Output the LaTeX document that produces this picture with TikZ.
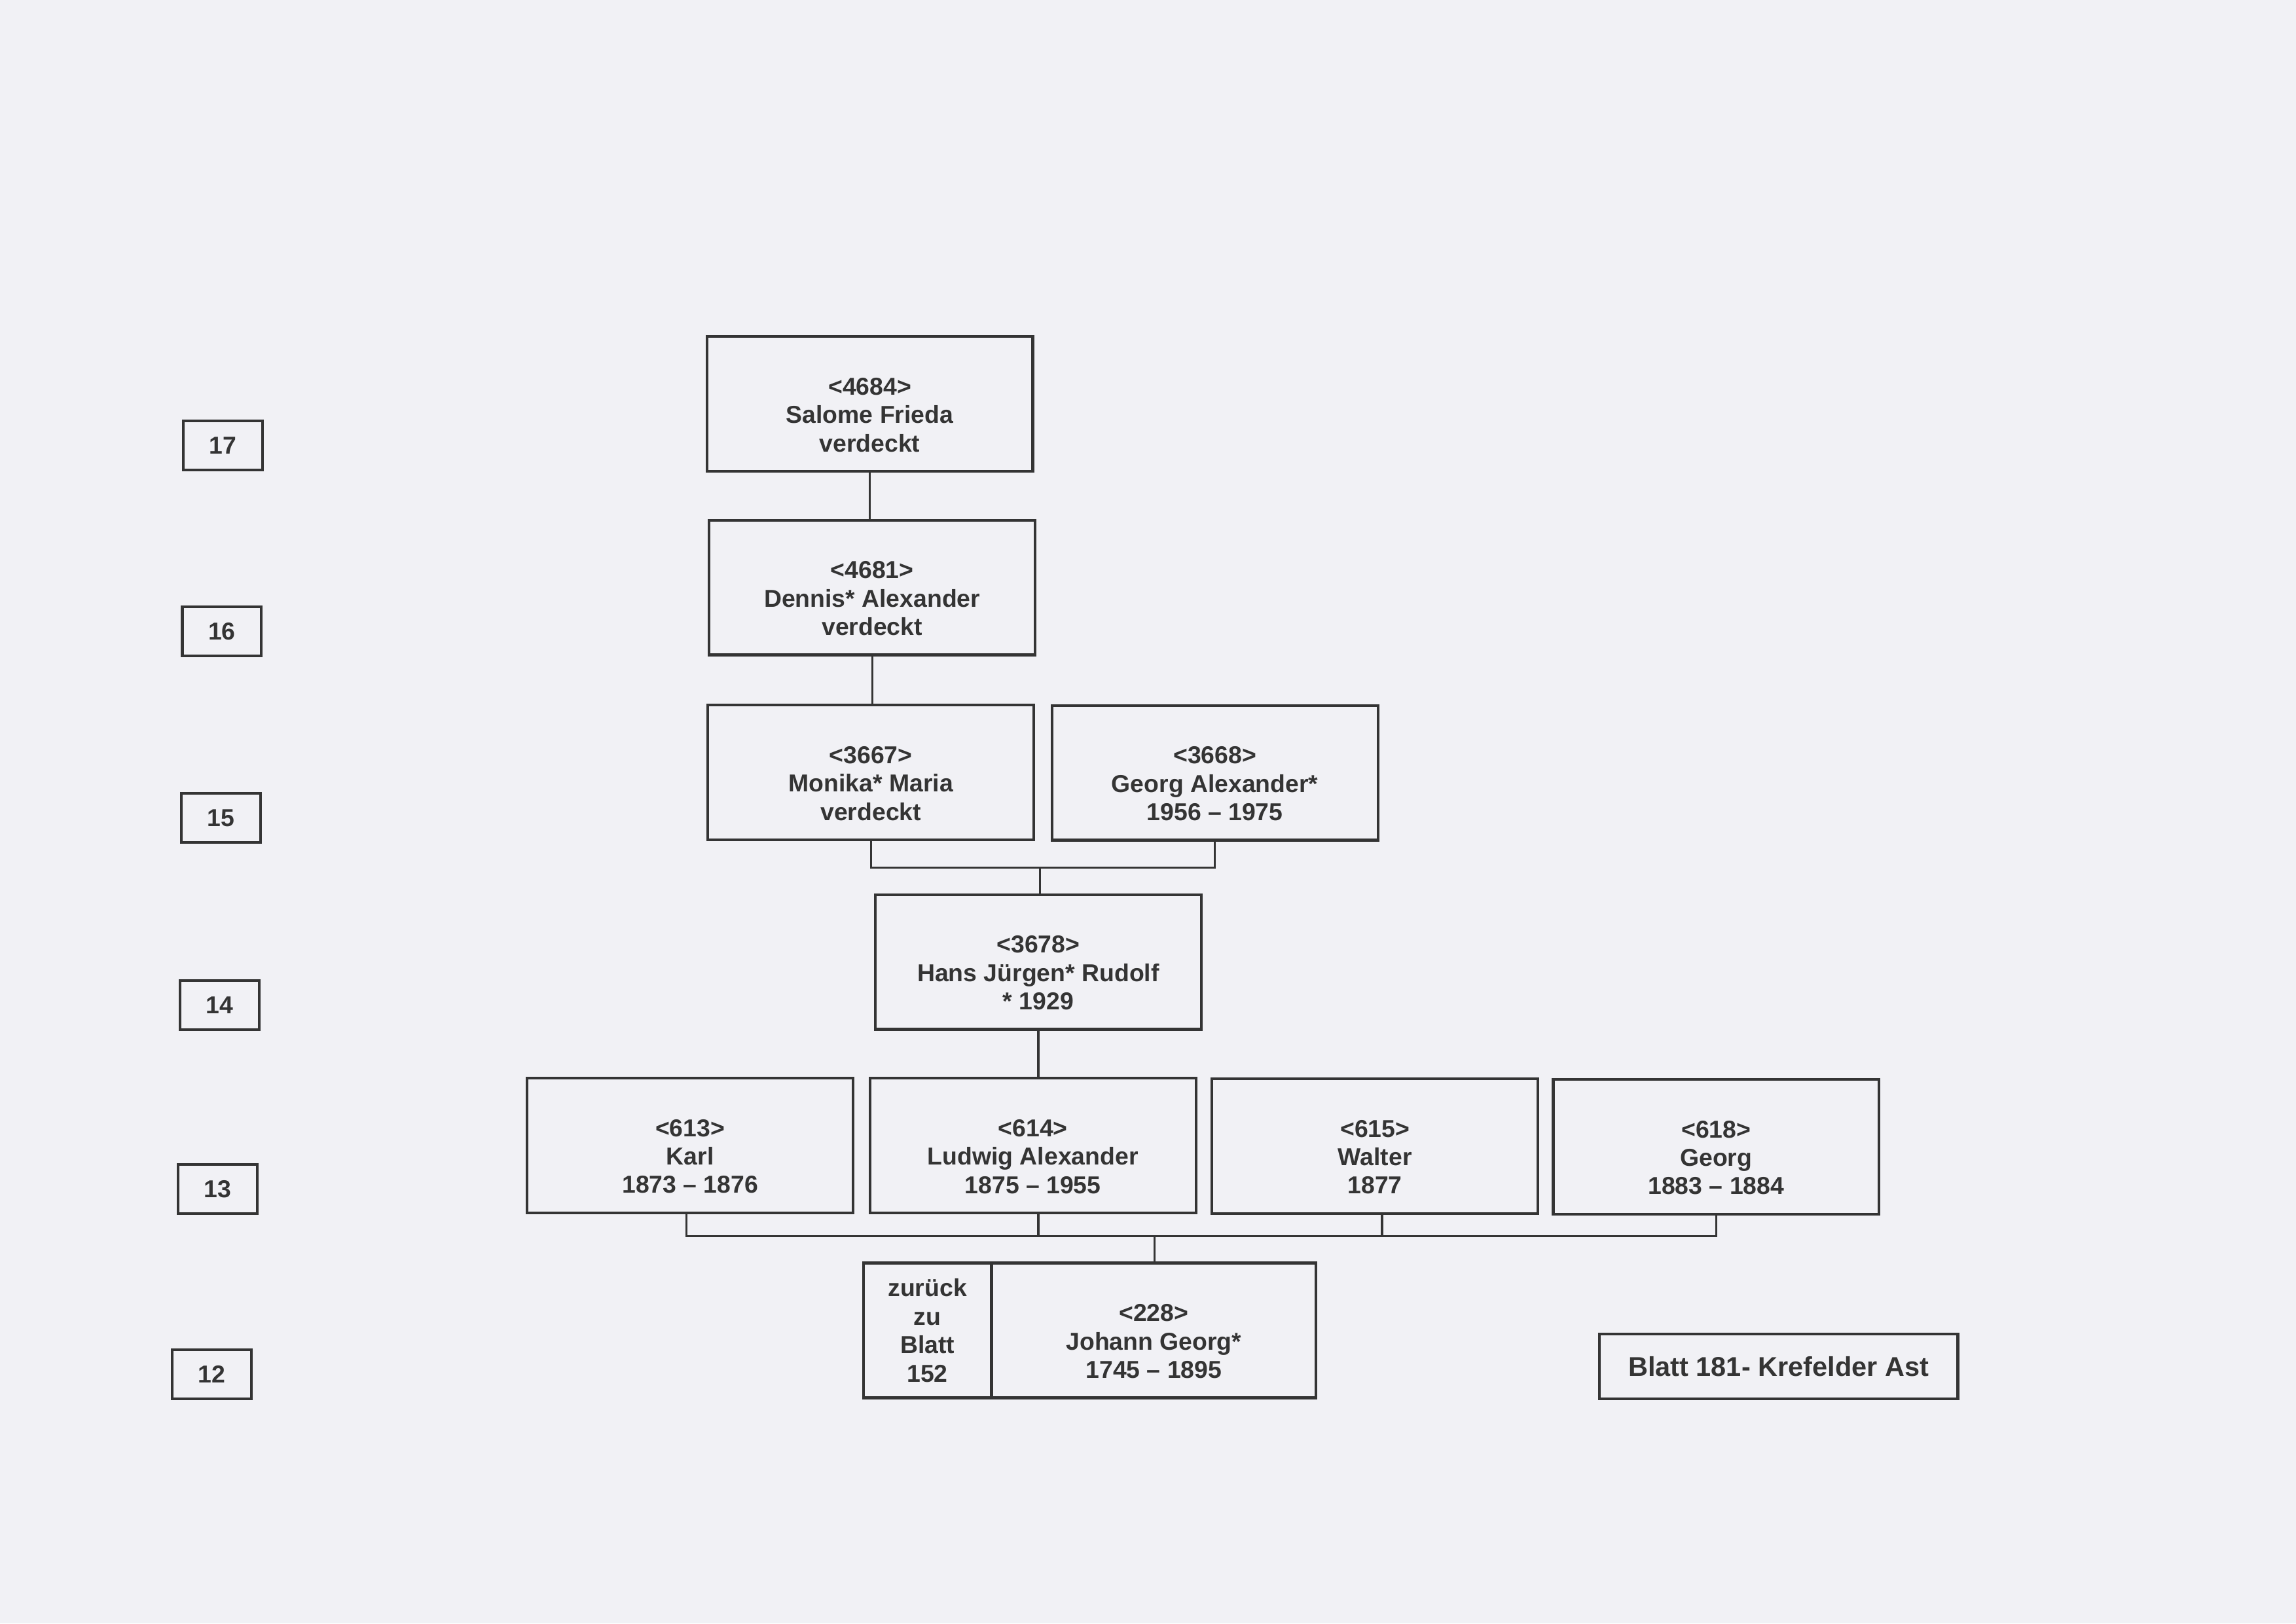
\documentclass[tikz,border=0pt]{standalone}
\usepackage{fontspec}
\setmainfont{Liberation Sans}
\usetikzlibrary{calc}
\definecolor{paper}{RGB}{241,241,245}
\definecolor{ink}{RGB}{52,52,52}
\begin{document}
\begin{tikzpicture}[x=0.018941cm, y=-0.018941cm,
  every node/.style={text=ink, font=\bfseries\fontsize{9}{10.46}\selectfont, align=center, inner sep=0pt},
  person/.style={draw=ink, line width=1pt, minimum width=4.214cm, minimum height=1.743cm},
  gen/.style={draw=ink, line width=1pt, minimum width=1.023cm, minimum height=0.635cm},
  conn/.style={draw=ink, line width=0.75pt},
  lbl/.style={}]
\fill[paper] (0,0) rectangle (1568,1109);
\useasboundingbox (0,0) rectangle (1568,1109);

% generation markers
\node[gen] (g17) at (152.2,304.1) {17};
\node[gen] (g16) at (151.5,431.1) {16};
\node[gen] (g15) at (150.75,558.6) {15};
\node[gen] (g14) at (149.85,686.65) {14};
\node[gen] (g13) at (148.75,812.15) {13};
\node[gen] (g12) at (144.6,938.5) {12};

% persons
\node[person] (p4684) at (594,276) {};
\node[lbl] (t4684) at ([yshift=-0.142cm]p4684.center) {<4684>\\Salome Frieda\\verdeckt};
\node[person] (p4681) at (595.6,401.3) {};
\node[lbl] (t4681) at ([yshift=-0.142cm]p4681.center) {<4681>\\Dennis* Alexander\\verdeckt};
\node[person] (p3667) at (594.75,527.7) {};
\node[lbl] (t3667) at ([yshift=-0.142cm]p3667.center) {<3667>\\Monika* Maria\\verdeckt};
\node[person] (p3668) at (829.7,527.85) {};
\node[lbl] (t3668) at ([yshift=-0.142cm]p3668.center) {<3668>\\Georg Alexander*\\1956 – 1975};
\node[person] (p3678) at (709.1,657.05) {};
\node[lbl] (t3678) at ([yshift=-0.142cm]p3678.center) {<3678>\\Hans Jürgen* Rudolf\\* 1929};
\node[person] (c613) at (471.3,782.35) {};
\node[lbl] (t613) at ([yshift=-0.142cm]c613.center) {<613>\\Karl\\1873 – 1876};
\node[person] (c614) at (705.4,782.5) {};
\node[lbl] (t614) at ([yshift=-0.142cm]c614.center) {<614>\\Ludwig Alexander\\1875 – 1955};
\node[person] (c615) at (939,782.8) {};
\node[lbl] (t615) at ([yshift=-0.142cm]c615.center) {<615>\\Walter\\1877};
\node[person] (c618) at (1172,783.3) {};
\node[lbl] (t618) at ([yshift=-0.142cm]c618.center) {<618>\\Georg\\1883 – 1884};

% bottom
\node[person, minimum width=4.199cm, minimum height=1.744cm] (p228) at (787.95,908.75) {};
\node[lbl] (t228) at ([yshift=-0.142cm]p228.center) {<228>\\Johann Georg*\\1745 – 1895};
\node[person, minimum width=1.657cm, minimum height=1.744cm] (zur) at (633.35,908.75) {zurück\\zu\\Blatt\\152};

\node[draw=ink, line width=1pt, minimum width=4.637cm, minimum height=0.841cm,
      font=\bfseries\fontsize{10}{12}\selectfont] (blatt) at (1214.6,933.3) {Blatt 181- Krefelder Ast};

% connectors
\draw[conn] (p4684.south) -- (p4684.south |- p4681.north);
\draw[conn] (p4681.south) -- (p4681.south |- p3667.north);
\coordinate (m15) at (710.2,592.6);
\draw[conn] (p3667.south) |- (m15) -| (p3668.south);
\draw[conn] (m15) -- (m15 |- p3678.north);
\draw[conn] (p3678.south) -- (p3678.south |- c614.north);
\coordinate (bus) at (788.5,844.5);
\coordinate (s613) at ([xshift=-1.34pt]c613.south);
\coordinate (s614) at ([xshift=2pt]c614.south);
\coordinate (s615) at ([xshift=2.6pt]c615.south);
\draw[conn] (s613) |- (bus) -| (c618.south);
\draw[conn] (s614) -- (s614 |- bus);
\draw[conn] (s615) -- (s615 |- bus);
\draw[conn] (bus) -- (bus |- p228.north);
\end{tikzpicture}
\end{document}
